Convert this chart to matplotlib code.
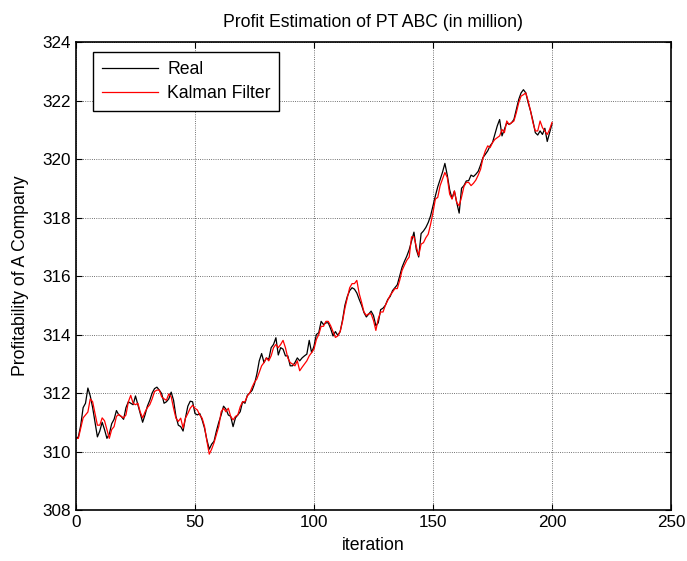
import matplotlib
matplotlib.use("Agg")
import matplotlib.pyplot as plt

plt.rcParams['font.family'] = ['Liberation Sans', 'DejaVu Sans']

# real profit, one value per iteration 0..200
real = [
    310.45, 310.5, 310.9, 311.5, 311.65, 312.17, 311.9, 311.5, 311.0, 310.5,
    310.7, 311.0, 310.75, 310.45, 310.6, 310.95, 311.1, 311.4, 311.25, 311.2,
    311.1, 311.5, 311.7, 311.65, 311.6, 311.9, 311.6, 311.3, 311.0, 311.25,
    311.55, 311.75, 312.0, 312.15, 312.2, 312.1, 311.98, 311.65, 311.7, 311.8,
    312.03, 311.75, 311.2, 310.9, 310.85, 310.7, 311.15, 311.55, 311.72, 311.7,
    311.3, 311.25, 311.3, 311.08, 310.8, 310.4, 310.08, 310.25, 310.35, 310.7,
    311.0, 311.25, 311.55, 311.45, 311.25, 311.2, 310.85, 311.15, 311.25, 311.36,
    311.7, 311.65, 311.92, 312.0, 312.09, 312.31, 312.65, 313.1, 313.35, 313.04,
    313.2, 313.15, 313.55, 313.66, 313.89, 313.3, 313.55, 313.5, 313.27, 313.27,
    312.93, 312.93, 313.04, 313.2, 313.1, 313.2, 313.27, 313.33, 313.8, 313.38,
    313.6, 314.0, 314.06, 314.45, 314.34, 314.4, 314.4, 314.2, 313.95, 314.1,
    313.97, 314.1, 314.5, 315.0, 315.3, 315.5, 315.6, 315.55, 315.42, 315.2,
    315.0, 314.75, 314.6, 314.7, 314.8, 314.65, 314.3, 314.4, 314.85, 314.9,
    315.0, 315.2, 315.3, 315.5, 315.6, 315.7, 316.0, 316.3, 316.5, 316.68,
    316.9, 317.2, 317.5, 316.9, 316.65, 317.45, 317.54, 317.66, 317.83, 318.06,
    318.4, 318.74, 319.05, 319.3, 319.55, 319.85, 319.45, 318.95, 318.65, 318.9,
    318.5, 318.15, 319.0, 319.09, 319.25, 319.26, 319.45, 319.4, 319.48, 319.58,
    319.8, 320.05, 320.16, 320.28, 320.45, 320.56, 320.84, 321.13, 321.35, 320.79,
    321.01, 321.24, 321.18, 321.24, 321.35, 321.69, 322.03, 322.26, 322.37, 322.26,
    321.92, 321.64, 321.3, 320.9, 320.82, 320.96, 320.84, 321.05, 320.6, 320.9,
    321.2,
]

# kalman filter estimate
kalman = [
    310.45, 310.45, 310.8, 311.15, 311.25, 311.35, 311.8, 311.7, 311.3, 310.9,
    310.9, 311.15, 311.05, 310.75, 310.45, 310.75, 310.85, 311.2, 311.27, 311.2,
    311.15, 311.25, 311.7, 311.92, 311.65, 311.6, 311.65, 311.35, 311.15, 311.35,
    311.5, 311.6, 311.8, 312.05, 312.1, 312.1, 311.87, 311.8, 311.75, 311.97,
    311.87, 311.48, 311.14, 311.03, 311.14, 310.8, 311.14, 311.3, 311.48, 311.58,
    311.48, 311.42, 311.25, 311.14, 310.86, 310.36, 309.91, 310.08, 310.3, 310.58,
    310.86, 311.36, 311.48, 311.36, 311.48, 311.2, 311.08, 311.2, 311.25, 311.53,
    311.7, 311.7, 311.9, 312.0, 312.2, 312.37, 312.48, 312.71, 312.93, 313.04,
    313.2, 313.1, 313.27, 313.55, 313.66, 313.55, 313.66, 313.8, 313.55, 313.2,
    313.04, 312.99, 312.93, 313.1, 312.76, 312.88, 312.99, 313.1, 313.27, 313.38,
    313.5, 313.83, 314.0, 314.28, 314.28, 314.45, 314.45, 314.3, 314.1, 313.9,
    313.95, 314.1, 314.45, 314.9, 315.25, 315.6, 315.74, 315.74, 315.85, 315.4,
    315.1, 314.77, 314.65, 314.71, 314.71, 314.48, 314.14, 314.54, 314.77, 314.77,
    315.0, 315.17, 315.34, 315.45, 315.57, 315.57, 315.85, 316.19, 316.37, 316.54,
    316.65, 317.34, 317.34, 317.0, 316.7, 317.09, 317.14, 317.31, 317.43, 317.77,
    318.17, 318.63, 318.69, 319.09, 319.31, 319.54, 319.37, 318.8, 318.63, 318.91,
    318.51, 318.4, 318.7, 319.06, 319.2, 319.2, 319.09, 319.17, 319.28, 319.45,
    319.65, 320.03, 320.28, 320.45, 320.39, 320.56, 320.67, 320.73, 320.79, 321.01,
    320.9, 321.3, 321.18, 321.24, 321.3, 321.58, 321.92, 322.15, 322.2, 322.26,
    321.98, 321.64, 321.24, 320.96, 320.96, 321.3, 321.07, 320.96, 320.84, 321.01,
    321.25,
]

iterations = list(range(len(real)))
xticks = [0, 50, 100, 150, 200, 250]
yticks = [308, 310, 312, 314, 316, 318, 320, 322, 324]

fig = plt.figure(figsize=(6.87, 5.61), dpi=100)
ax = fig.add_axes([0.1106, 0.0909, 0.8661, 0.8342])

ax.plot(iterations, real, color='black', linewidth=0.9, label='Real')
ax.plot(iterations, kalman, color='red', linewidth=0.9, label='Kalman Filter')

ax.set_xlim(0, 250)
ax.set_ylim(308, 324)
ax.set_xticks(xticks)
ax.set_yticks(yticks)
ax.tick_params(direction='in', length=4, labelsize=12.3, top=True, right=True)
ax.grid(True, color='#444444', linestyle=':', linewidth=0.6)
for s in ax.spines.values():
    s.set_linewidth(1.2)

ax.set_title("Profit Estimation of PT ABC (in million)", fontsize=12.7, pad=11)
ax.set_xlabel("iteration", fontsize=12.7, labelpad=5)
ax.set_ylabel("Profitability of A Company", fontsize=12.7, labelpad=10)

leg = ax.legend(loc='upper left', bbox_to_anchor=(0.0286, 0.9786), borderaxespad=0,
                fancybox=False, edgecolor='black', framealpha=1, fontsize=12.7,
                handlelength=3.2, handletextpad=0.5, borderpad=0.5, labelspacing=0.4)
leg.get_frame().set_linewidth(1.0)

fig.savefig("out.png", dpi=100)
